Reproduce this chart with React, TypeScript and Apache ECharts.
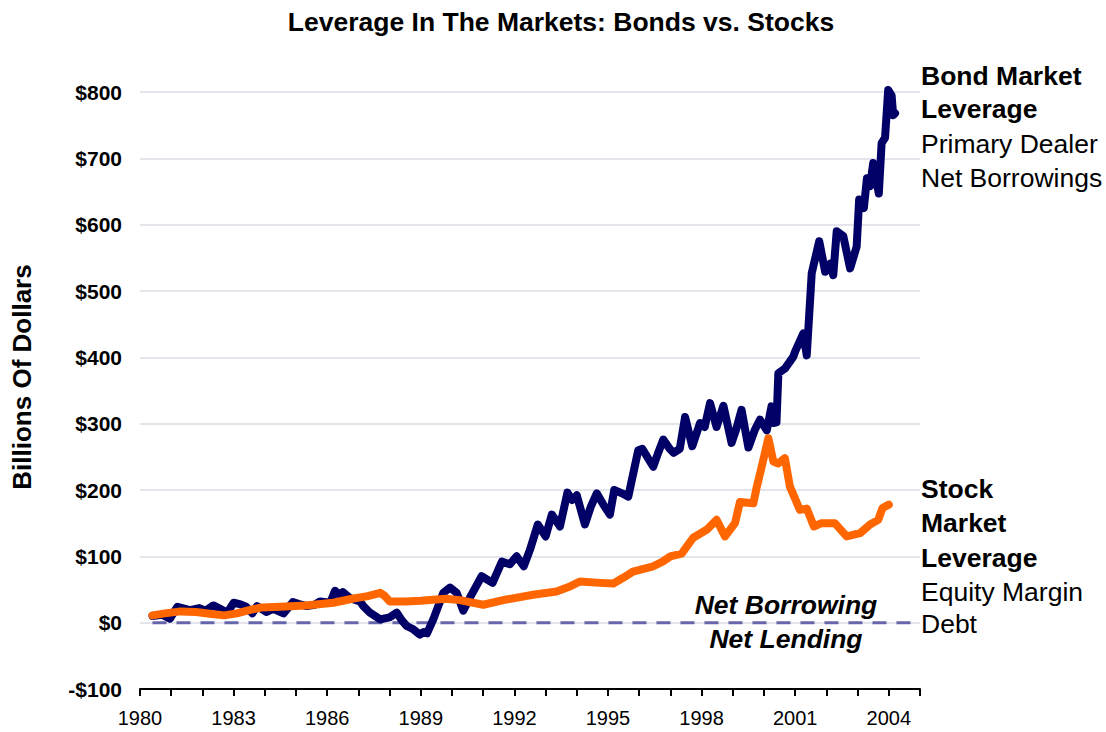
import React, { useEffect, useRef } from 'react';
import * as echarts from 'echarts';

const titleText = 'Leverage In The Markets: Bonds vs. Stocks';
const yAxisTitle = 'Billions Of Dollars';
const bondLabel = ['Bond Market', 'Leverage'];
const bondSub = ['Primary Dealer', 'Net Borrowings'];
const stockLabel = ['Stock', 'Market', 'Leverage'];
const stockSub = ['Equity Margin', 'Debt'];

const bondYears = [
  1980.4, 1980.7, 1980.96, 1981.2, 1981.6, 1981.9, 1982.1, 1982.35, 1982.6, 1982.8,
  1983.0, 1983.2, 1983.4, 1983.6, 1983.75, 1984.06, 1984.27, 1984.6, 1984.9, 1985.1,
  1985.34, 1985.6, 1985.77, 1986.1, 1986.25, 1986.4, 1986.5, 1986.73, 1987.05, 1987.16,
  1987.37, 1987.7, 1988.0, 1988.23, 1988.4, 1988.55, 1988.76, 1988.97, 1989.1, 1989.2,
  1989.4, 1989.72, 1989.94, 1990.15, 1990.36, 1990.6, 1990.95, 1991.3, 1991.6, 1991.85,
  1992.07, 1992.3, 1992.5, 1992.75, 1993.0, 1993.2, 1993.46, 1993.7, 1993.85, 1994.0,
  1994.26, 1994.45, 1994.64, 1994.85, 1995.06, 1995.2, 1995.45, 1995.65, 1995.97, 1996.1,
  1996.45, 1996.6, 1996.77, 1996.98, 1997.1, 1997.3, 1997.47, 1997.7, 1997.95, 1998.1,
  1998.27, 1998.48, 1998.7, 1998.96, 1999.1, 1999.28, 1999.5, 1999.7, 1999.87, 2000.09,
  2000.24, 2000.3, 2000.4, 2000.46, 2000.67, 2000.94, 2001.0, 2001.26, 2001.37, 2001.53,
  2001.77, 2001.96, 2002.12, 2002.22, 2002.33, 2002.54, 2002.76, 2002.97, 2003.05, 2003.2,
  2003.3, 2003.4, 2003.5, 2003.68, 2003.77, 2003.88, 2003.98, 2004.09, 2004.14, 2004.2,
];
const bondValues = [
  10, 12, 6, 24, 19, 22, 18, 26, 20, 15,
  30, 28, 24, 14, 25, 16, 21, 14, 31, 28,
  25, 27, 32, 30, 48, 42, 46, 37, 32, 25,
  15, 5, 8, 15, 3, -5, -10, -18, -14, -16,
  5, 45, 53, 45, 18, 40, 70, 60, 92, 88,
  100, 85, 110, 148, 130, 163, 145, 196, 185, 192,
  148, 175, 195, 178, 163, 200, 195, 190, 260, 262,
  235, 255, 276, 262, 256, 262, 310, 266, 301, 295,
  331, 295, 327, 271, 290, 321, 264, 290, 306, 290,
  326, 301, 302, 376, 383, 401, 409, 436, 403, 527,
  575, 529, 541, 524, 590, 583, 534, 567, 638, 625,
  670, 658, 693, 647, 723, 731, 803, 795, 765, 768,
];

const stockYears = [
  1980.4, 1980.8, 1981.3, 1981.8, 1982.3, 1982.7, 1983.1, 1983.5, 1983.9, 1984.5,
  1985.3, 1985.8, 1986.2, 1986.8, 1987.3, 1987.7, 1987.85, 1988.0, 1988.5, 1989.0,
  1989.8, 1990.25, 1991.0, 1991.75, 1992.6, 1993.35, 1993.8, 1994.1, 1994.74, 1995.17,
  1995.5, 1995.8, 1996.45, 1996.75, 1997.0, 1997.36, 1997.73, 1998.16, 1998.48, 1998.75,
  1999.07, 1999.23, 1999.66, 1999.77, 1999.9, 2000.03, 2000.14, 2000.3, 2000.46, 2000.67,
  2000.83, 2001.15, 2001.37, 2001.6, 2001.84, 2002.27, 2002.65, 2003.08, 2003.4, 2003.66,
  2003.8, 2004.0,
];
const stockValues = [
  11, 14, 17, 16, 13, 11, 14, 19, 23, 24,
  26, 28, 30, 36, 40, 45, 40, 32, 32, 33,
  36, 34, 27, 35, 42, 47, 55, 62, 60, 59,
  68, 77, 85, 92, 100, 104, 128, 140, 155, 130,
  150, 182, 180, 205, 230, 256, 278, 243, 240, 248,
  205, 170, 172, 145, 150, 150, 130, 135, 148, 155,
  173, 178,
];

const zeroLineYears = [1980.4, 2005];
const zeroLineValues = [0, 0];

const yTicks = { min: -100, max: 800, step: 100 };
const xTicks = { min: 1980, max: 2005, step: 1, labelEvery: 3 };

const FONT = 'Liberation Sans, Arial, sans-serif';

export default function App() {
  const ref = useRef<HTMLDivElement>(null);
  useEffect(() => {
    const chart = echarts.init(ref.current!, null, { renderer: 'svg' });
    const pair = (xs: number[], ys: number[]) => xs.map((x, i) => [x, ys[i]]);
    const lineText = (text: string, x: number, y: number, bold: boolean, size = 26.5) => ({
      type: 'text',
      x,
      y,
      style: {
        text,
        fill: '#000',
        font: `${bold ? 'bold ' : ''}${size}px ${FONT}`,
        textAlign: 'left',
        textVerticalAlign: 'middle',
      },
    });
    const graphics: any[] = [
      {
        type: 'text', x: 561, y: 22,
        style: { text: titleText, fill: '#000', font: `bold 26.5px ${FONT}`, textAlign: 'center', textVerticalAlign: 'middle' },
      },
      {
        type: 'text', x: 22, y: 377, rotation: Math.PI / 2,
        style: { text: yAxisTitle, fill: '#000', font: `bold 26px ${FONT}`, textAlign: 'center', textVerticalAlign: 'middle' },
      },
      lineText(bondLabel[0], 921, 76, true),
      lineText(bondLabel[1], 921, 109, true),
      lineText(bondSub[0], 921, 144, false),
      lineText(bondSub[1], 921, 177.5, false),
      lineText(stockLabel[0], 921, 489, true),
      lineText(stockLabel[1], 921, 523, true),
      lineText(stockLabel[2], 921, 558, true),
      lineText(stockSub[0], 921, 591.5, false),
      lineText(stockSub[1], 921, 623.5, false),
      {
        type: 'text', x: 786, y: 605,
        style: { text: 'Net Borrowing', fill: '#000', font: `italic bold 26.5px ${FONT}`, textAlign: 'center', textVerticalAlign: 'middle' },
      },
      {
        type: 'text', x: 786, y: 639,
        style: { text: 'Net Lending', fill: '#000', font: `italic bold 26.5px ${FONT}`, textAlign: 'center', textVerticalAlign: 'middle' },
      },
    ];
    chart.setOption({
      animation: false,
      backgroundColor: '#fff',
      grid: { left: 140, top: 92, width: 780, height: 597, containLabel: false },
      xAxis: {
        type: 'value',
        min: xTicks.min,
        max: xTicks.max,
        interval: xTicks.step,
        axisLine: { onZero: false, lineStyle: { color: '#000', width: 2 } },
        axisTick: { show: true, length: 7, lineStyle: { color: '#000', width: 2 } },
        splitLine: { show: false },
        axisLabel: {
          color: '#000',
          fontFamily: FONT,
          fontSize: 20,
          margin: 19,
          formatter: (v: number) => ((v - xTicks.min) % xTicks.labelEvery === 0 && v < xTicks.max ? String(v) : ''),
        },
      },
      yAxis: {
        type: 'value',
        min: yTicks.min,
        max: yTicks.max,
        interval: yTicks.step,
        axisLine: { show: false },
        axisTick: { show: false },
        splitLine: { show: true, lineStyle: { color: '#e4e4ec', width: 2 } },
        axisLabel: {
          color: '#000',
          fontFamily: FONT,
          fontSize: 21,
          fontWeight: 'bold',
          margin: 18,
          formatter: (v: number) => (v < 0 ? `-$${Math.abs(v)}` : `$${v}`),
        },
      },
      series: [
        {
          type: 'line',
          data: pair(zeroLineYears, zeroLineValues),
          symbol: 'none',
          silent: true,
          lineStyle: { color: '#6666aa', width: 3, type: [14, 10] },
        },
        {
          type: 'line',
          name: 'Bond Market Leverage',
          data: pair(bondYears, bondValues),
          symbol: 'none',
          clip: false,
          lineStyle: { color: '#000066', width: 8, cap: 'round', join: 'round' },
        },
        {
          type: 'line',
          name: 'Stock Market Leverage',
          data: pair(stockYears, stockValues),
          symbol: 'none',
          clip: false,
          lineStyle: { color: '#ff6600', width: 8, cap: 'round', join: 'round' },
        },
      ],
      graphic: graphics,
    });
    return () => chart.dispose();
  }, []);
  return (
    <div
      ref={ref}
      style={{ position: 'fixed', left: 0, top: 0, width: 1106, height: 732, background: '#fff' }}
    />
  );
}
